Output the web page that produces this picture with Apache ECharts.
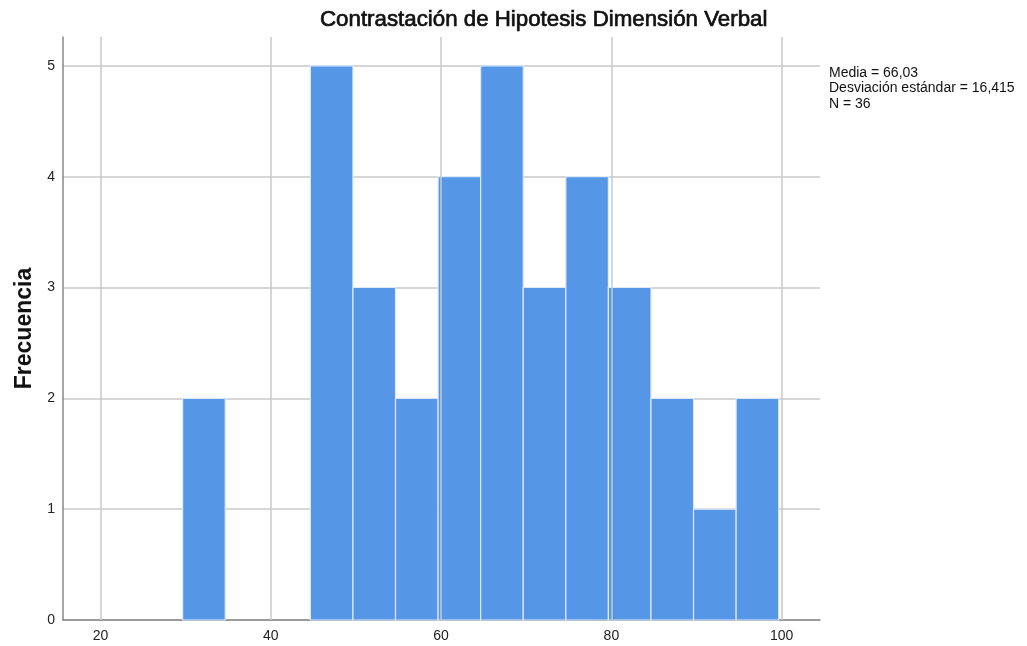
<!DOCTYPE html>
<html><head><meta charset="utf-8">
<script src="https://cdn.jsdelivr.net/npm/echarts@6/dist/echarts.min.js"></script>
<style>html,body{margin:0;padding:0;background:#fff}#c{width:1027px;height:646px}</style>
</head><body><div id="c"></div>
<script>
const binStarts = [29.65, 44.65, 49.65, 54.65, 59.65, 64.65, 69.65, 74.65, 79.65, 84.65, 89.65, 94.65];
const binWidth = 5;
const counts = [2, 5, 3, 2, 4, 5, 3, 4, 3, 2, 1, 2];
const xTicks = [20, 40, 60, 80, 100];
const titleText = 'Contrastación de Hipotesis Dimensión Verbal';
const statsLines = ['Media = 66,03', 'Desviación estándar = 16,415', 'N = 36'];
const yName = 'Frecuencia';

const chart = echarts.init(document.getElementById('c'));
const font = 'Liberation Sans, Arial, sans-serif';
chart.setOption({
  animation: false,
  backgroundColor: '#fff',
  textStyle: {fontFamily: font},
  title: {text: titleText, left: 315, top: 4,
    textStyle: {fontSize: 22.3, fontWeight: 'normal', color: '#111', fontFamily: font,
      textBorderColor: '#111', textBorderWidth: 0.7}},
  grid: {left: 63, right: 207, top: 37, bottom: 26, containLabel: false, outerBoundsMode: 'none'},
  xAxis: {type: 'value', min: 15.6, max: 104.5,
    axisLine: {show: true, lineStyle: {color: '#888', width: 1.5}},
    axisTick: {show: false, customValues: xTicks},
    axisLabel: {customValues: xTicks, color: '#222', fontSize: 14, margin: 9, fontFamily: font},
    splitLine: {show: false}},
  yAxis: {type: 'value', min: 0, max: 5.26, interval: 1,
    name: yName, nameLocation: 'middle', nameGap: 26, nameRotate: 90,
    nameTextStyle: {fontSize: 23, fontWeight: 'bold', color: '#111', fontFamily: font},
    axisLine: {show: true, lineStyle: {color: '#888', width: 1.5}},
    axisTick: {show: false},
    axisLabel: {color: '#222', fontSize: 14, margin: 8, fontFamily: font, showMaxLabel: false},
    splitLine: {show: true, showMaxLine: false, lineStyle: {color: '#c8c8c8', width: 1.5}}},
  graphic: statsLines.map((t, i) => ({type: 'text', left: 829, top: 66 + i * 15.5,
    style: {text: t, fontSize: 14, fill: '#111', fontFamily: font}})),
  series: [
    {type: 'line', data: [], z: 1, silent: true,
      markLine: {symbol: 'none', silent: true, label: {show: false},
        lineStyle: {color: '#c8c8c8', width: 1.5, type: 'solid'},
        data: xTicks.map(v => ({xAxis: v}))}},
    {type: 'custom', z: 3,
      data: binStarts.map((s, i) => [s, s + binWidth, counts[i]]),
      encode: {x: [0, 1], y: 2},
      renderItem: function (params, api) {
        const p0 = api.coord([api.value(0), api.value(2)]);
        const p1 = api.coord([api.value(1), 0]);
        return {type: 'rect',
          shape: {x: p0[0], y: p0[1], width: p1[0] - p0[0], height: p1[1] - p0[1]},
          style: {fill: '#5596e6', stroke: '#dce9f9', lineWidth: 1.2}};
      }}
  ]
});
</script></body></html>
